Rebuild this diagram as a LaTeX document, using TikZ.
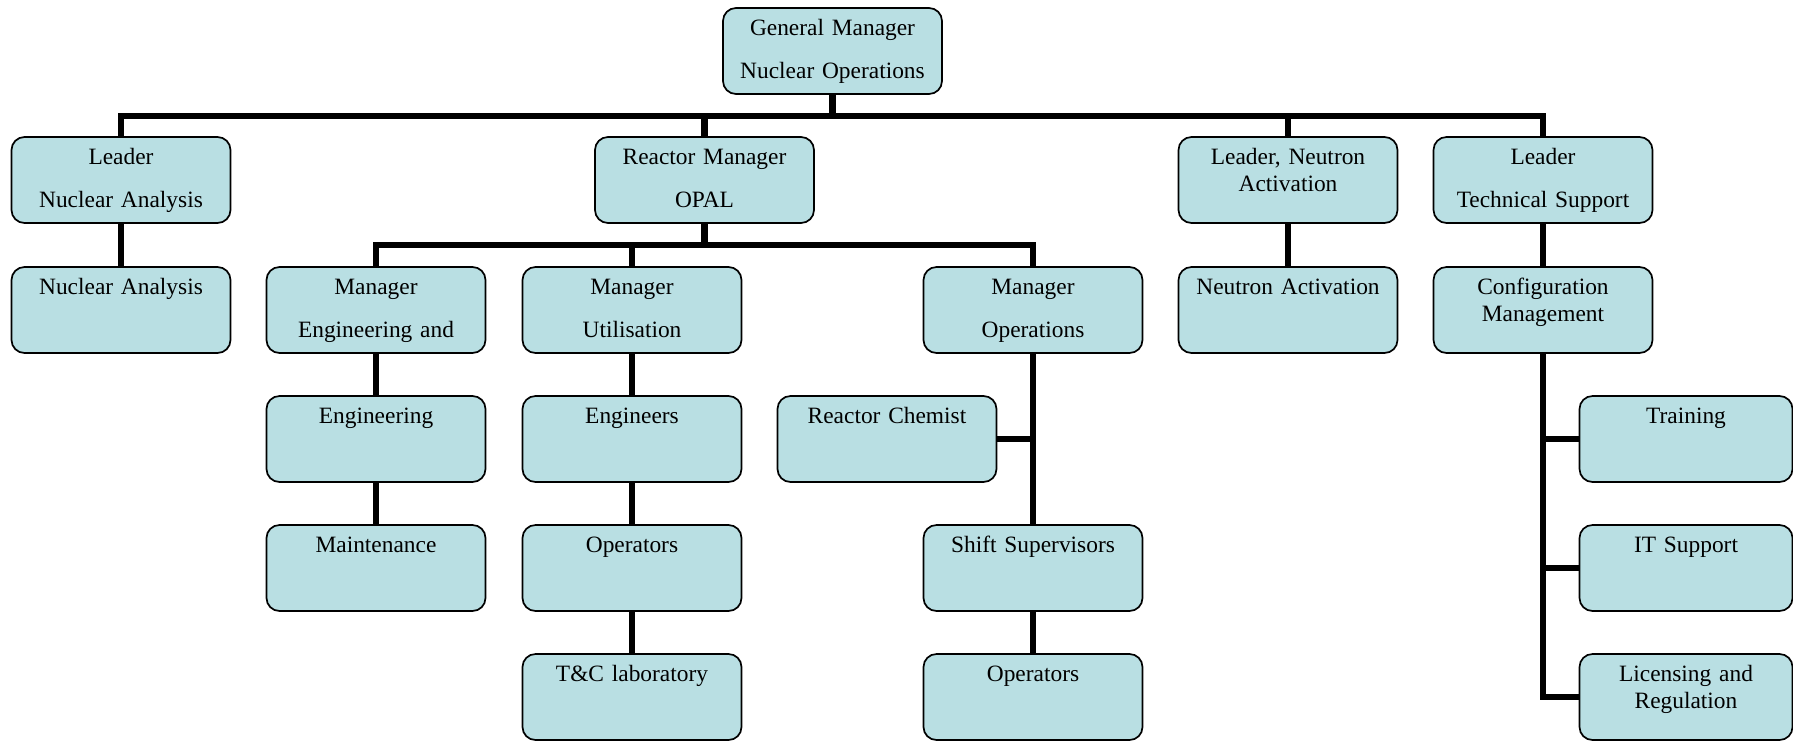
\documentclass[tikz,border=0pt]{standalone}
\usepackage{fontspec}
\setmainfont{Liberation Serif}
\usepackage{tikz}
\definecolor{boxfill}{RGB}{185,223,227}

\begin{document}
\begin{tikzpicture}[x=0.5pt,y=-0.5pt,
    unit/.style={draw, line width=0.85pt, rounded corners=6.5pt, fill=boxfill,
      anchor=north, inner xsep=4.75pt, inner ysep=0pt, outer sep=0pt,
      text width=100pt, align=center, text height=13.75pt, text depth=29.25pt,
      font=\fontsize{11.7}{13.5}\selectfont},
    narrow/.style={text width=97pt},
    link/.style={line width=3.25pt}]
    \useasboundingbox (0,0) rectangle (1793,741);
    \coordinate (bus) at (0,116);
    \coordinate (subbus) at (0,245);

    \node[unit] (gm) at (832.5,8) {General Manager\\[8pt]Nuclear Operations};

    \node[unit] (lna) at (121,137) {Leader\\[8pt]Nuclear Analysis};
    \node[unit] (rm) at (704.5,137) {Reactor Manager\\[8pt]OPAL};
    \node[unit] (lnt) at (1288,137) {Leader, Neutron\\Activation};
    \node[unit] (lts) at (1543,137) {Leader\\[8pt]Technical Support};

    \node[unit] (na) at (121,267) {Nuclear Analysis};
    \node[unit] (meng) at (376,267) {Manager\\[8pt]Engineering and};
    \node[unit] (mut) at (632,267) {Manager\\[8pt]Utilisation};
    \node[unit] (mop) at (1033,267) {Manager\\[8pt]Operations};
    \node[unit] (nt) at (1288,267) {Neutron Activation};
    \node[unit] (cm) at (1543,267) {Configuration\\Management};

    \node[unit] (eng) at (376,396) {Engineering};
    \node[unit] (engr) at (632,396) {Engineers};
    \node[unit] (rch) at (887,396) {Reactor Chemist};
    \node[unit,narrow] (trn) at (1686,396) {Training};

    \node[unit] (mnt) at (376,525) {Maintenance};
    \node[unit] (opr) at (632,525) {Operators};
    \node[unit] (ssv) at (1033,525) {Shift Supervisors};
    \node[unit,narrow] (its) at (1686,525) {IT Support};

    \node[unit] (tcl) at (632,654) {T\&C laboratory};
    \node[unit] (opr2) at (1033,654) {Operators};
    \node[unit,narrow] (lic) at (1686,654) {Licensing and\\Regulation};

    % top level
    \draw[link] (gm.south) -- (gm.south |- bus);
    \draw[link] (lna.north) |- (lts.north |- bus) -- (lts.north);
    \draw[link] (rm.north) -- (rm.north |- bus);
    \draw[link] (lnt.north) -- (lnt.north |- bus);
    \draw[link] (lna) -- (na);
    \draw[link] (lnt) -- (nt);
    \draw[link] (lts) -- (cm);

    % reactor
    \draw[link] (rm.south) -- (rm.south |- subbus);
    \draw[link] (meng.north) |- (mop.north |- subbus) -- (mop.north);
    \draw[link] (mut.north) -- (mut.north |- subbus);
    \draw[link] (meng) -- (eng);
    \draw[link] (eng) -- (mnt);
    \draw[link] (mut) -- (engr);
    \draw[link] (engr) -- (opr);
    \draw[link] (opr) -- (tcl);
    \draw[link] (mop) -- (ssv);
    \draw[link] (rch.east) -- (rch.east -| mop.south);
    \draw[link] (ssv) -- (opr2);

    % technical support
    \draw[link] (cm.south) |- (lic.west);
    \draw[link] (trn.west) -- (trn.west -| cm.south);
    \draw[link] (its.west) -- (its.west -| cm.south);
  \end{tikzpicture}
\end{document}
